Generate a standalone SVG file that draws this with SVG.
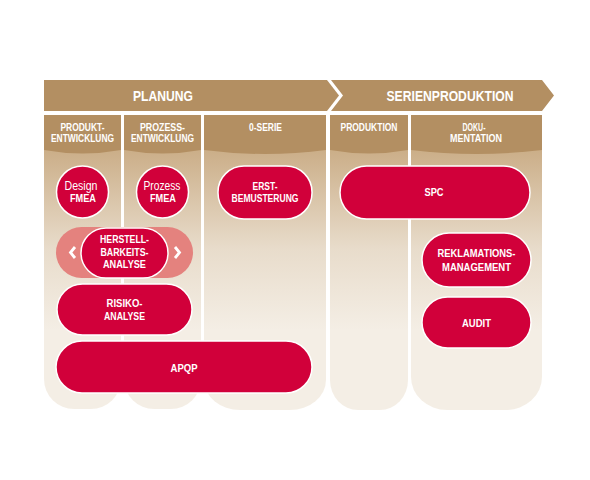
<svg xmlns="http://www.w3.org/2000/svg" width="590" height="480" viewBox="0 0 590 480">
<defs>
<linearGradient id="colg" gradientUnits="userSpaceOnUse" x1="0" y1="150" x2="0" y2="330">
<stop offset="0" stop-color="#cbae88"/>
<stop offset="0.55" stop-color="#e8dccb"/>
<stop offset="1" stop-color="#f4eee5"/>
</linearGradient>
<style>
.arrow{fill:#b38f62}
.col{fill:url(#colg)}
.hdr{fill:#b38f62}
.ht{font-family:"Liberation Sans",Arial,sans-serif;font-weight:bold;font-size:10.5px;fill:#fff;text-anchor:middle}
.at{font-family:"Liberation Sans",Arial,sans-serif;font-weight:bold;font-size:15px;fill:#fff;text-anchor:middle}
.node{fill:#d1003a;stroke:#fff;stroke-width:1.5}
.wrap{fill:#e4827e}
.nt{font-family:"Liberation Sans",Arial,sans-serif;font-weight:bold;font-size:11px;fill:#fff;text-anchor:middle}
.nr{font-family:"Liberation Sans",Arial,sans-serif;font-weight:normal;font-size:12px;fill:#fff;text-anchor:middle}
.chev{fill:none;stroke:#fff;stroke-width:2.8;stroke-linecap:butt;stroke-linejoin:miter}
</style>
</defs>
<rect width="590" height="480" fill="#fff"/>

<g id="phases">
<polygon class="arrow" points="44,80 327,80 339,95.5 327,111 44,111"/>
<polygon class="arrow" points="331,80 542,80 554,95.5 542,111 331,111 343,95.5"/>
<text class="at" x="163" y="101" textLength="60" lengthAdjust="spacingAndGlyphs">PLANUNG</text>
<text class="at" x="450" y="101" textLength="127" lengthAdjust="spacingAndGlyphs">SERIENPRODUKTION</text>
</g>

<g id="columns">
<g id="col-produktentwicklung">
<path class="col" d="M44,115 H121 V379 A30,30 0 0 1 91,409 H74 A30,30 0 0 1 44,379 Z"/>
<path class="hdr" d="M44,115 H121 V150 Q82.5,157 44,150 Z"/>
<text class="ht" x="82.5" y="131" textLength="44" lengthAdjust="spacingAndGlyphs">PRODUKT-</text>
<text class="ht" x="82.5" y="142" textLength="63" lengthAdjust="spacingAndGlyphs">ENTWICKLUNG</text>
</g>
<g id="col-prozessentwicklung">
<path class="col" d="M124,115 H201 V379 A30,30 0 0 1 171,409 H154 A30,30 0 0 1 124,379 Z"/>
<path class="hdr" d="M124,115 H201 V150 Q162.5,157 124,150 Z"/>
<text class="ht" x="162.5" y="131" textLength="45" lengthAdjust="spacingAndGlyphs">PROZESS-</text>
<text class="ht" x="162.5" y="142" textLength="63" lengthAdjust="spacingAndGlyphs">ENTWICKLUNG</text>
</g>
<g id="col-0serie">
<path class="col" d="M204,115 H326 V380 A36,30 0 0 1 290,410 H240 A36,30 0 0 1 204,380 Z"/>
<path class="hdr" d="M204,115 H326 V150 Q265,158 204,150 Z"/>
<text class="ht" x="265.5" y="131" textLength="33" lengthAdjust="spacingAndGlyphs">0-SERIE</text>
</g>
<g id="col-produktion">
<path class="col" d="M330,115 H408 V380 A28,30 0 0 1 380,410 H358 A28,30 0 0 1 330,380 Z"/>
<path class="hdr" d="M330,115 H408 V150 Q369,157 330,150 Z"/>
<text class="ht" x="369" y="131" textLength="57" lengthAdjust="spacingAndGlyphs">PRODUKTION</text>
</g>
<g id="col-dokumentation">
<path class="col" d="M411,115 H542 V377 A36,33 0 0 1 506,410 H447 A36,33 0 0 1 411,377 Z"/>
<path class="hdr" d="M411,115 H542 V150 Q476.5,158 411,150 Z"/>
<text class="ht" x="474" y="131" textLength="23" lengthAdjust="spacingAndGlyphs">DOKU-</text>
<text class="ht" x="476" y="142" textLength="52" lengthAdjust="spacingAndGlyphs">MENTATION</text>
</g>
</g>

<g id="design-fmea">
<circle class="node" cx="82.5" cy="192" r="26"/>
<text class="nr" x="81" y="190" textLength="33" lengthAdjust="spacingAndGlyphs">Design</text>
<text class="nt" x="83" y="202" textLength="26" lengthAdjust="spacingAndGlyphs">FMEA</text>
</g>

<g id="prozess-fmea">
<circle class="node" cx="162.5" cy="192" r="26"/>
<text class="nr" x="162" y="190" textLength="37" lengthAdjust="spacingAndGlyphs">Prozess</text>
<text class="nt" x="163" y="202" textLength="26" lengthAdjust="spacingAndGlyphs">FMEA</text>
</g>

<g id="erstbemusterung">
<rect class="node" x="218" y="166" width="94" height="53" rx="26"/>
<text class="nt" x="265" y="190" textLength="25" lengthAdjust="spacingAndGlyphs">ERST-</text>
<text class="nt" x="265" y="201.5" textLength="67" lengthAdjust="spacingAndGlyphs">BEMUSTERUNG</text>
</g>

<g id="herstellbarkeitsanalyse">
<rect class="wrap" x="56" y="227" width="137" height="51" rx="25.5"/>
<polyline class="chev" points="75,247 70.5,252.5 75,258"/>
<polyline class="chev" points="175,247 179.5,252.5 175,258"/>
<rect class="node" x="81" y="228" width="87" height="50" rx="25"/>
<text class="nt" x="124.5" y="243" textLength="49" lengthAdjust="spacingAndGlyphs">HERSTELL-</text>
<text class="nt" x="124.5" y="255.5" textLength="48" lengthAdjust="spacingAndGlyphs">BARKEITS-</text>
<text class="nt" x="124.5" y="268" textLength="43" lengthAdjust="spacingAndGlyphs">ANALYSE</text>
</g>

<g id="risikoanalyse">
<rect class="node" x="57" y="284" width="135" height="51" rx="25.5"/>
<text class="nt" x="124.5" y="307" textLength="36" lengthAdjust="spacingAndGlyphs">RISIKO-</text>
<text class="nt" x="124.5" y="320" textLength="41" lengthAdjust="spacingAndGlyphs">ANALYSE</text>
</g>

<g id="apqp">
<rect class="node" x="56" y="341" width="256" height="52" rx="26"/>
<text class="nt" x="184" y="372" textLength="27" lengthAdjust="spacingAndGlyphs">APQP</text>
</g>

<g id="spc">
<rect class="node" x="340" y="166" width="190" height="53" rx="26.5"/>
<text class="nt" x="434" y="196" textLength="19" lengthAdjust="spacingAndGlyphs">SPC</text>
</g>

<g id="reklamationsmanagement">
<rect class="node" x="422" y="233" width="109" height="54" rx="27"/>
<text class="nt" x="476.5" y="257" textLength="78" lengthAdjust="spacingAndGlyphs">REKLAMATIONS-</text>
<text class="nt" x="476.5" y="271" textLength="69" lengthAdjust="spacingAndGlyphs">MANAGEMENT</text>
</g>

<g id="audit">
<rect class="node" x="422" y="297" width="109" height="51" rx="25.5"/>
<text class="nt" x="476.5" y="327" textLength="29" lengthAdjust="spacingAndGlyphs">AUDIT</text>
</g>

<g id="connectors"/>
</svg>
